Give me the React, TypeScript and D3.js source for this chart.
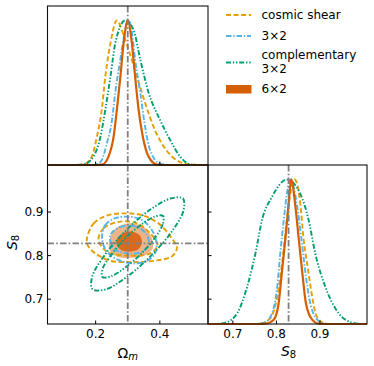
import * as d3 from 'd3'
import React from 'react'

const W = 374
const H = 366

// parameter ranges, fiducial values, ticks
const OM_RANGE = [0.05, 0.55]
const S8_RANGE = [0.643, 1.008]
const OM_FID = 0.3
const S8_FID = 0.828
const OM_TICKS = [0.2, 0.4]
const S8_TICKS = [0.7, 0.8, 0.9]

// 1D marginals: [value, peak-normalised density]
const omShear = [[0.05, 0], [0.14, 0], [0.163, 0.005], [0.188, 0.058], [0.204, 0.196], [0.219, 0.38], [0.23, 0.61], [0.246, 0.84], [0.266, 1.0], [0.287, 0.9], [0.308, 0.76], [0.329, 0.61], [0.354, 0.43], [0.385, 0.24], [0.421, 0.1], [0.463, 0.02], [0.5, 0.002], [0.55, 0]]
const om3x2 = [[0.05, 0], [0.19, 0], [0.215, 0.02], [0.235, 0.15], [0.251, 0.31], [0.261, 0.5], [0.277, 0.73], [0.292, 0.935], [0.302, 1.0], [0.313, 0.92], [0.323, 0.73], [0.339, 0.5], [0.354, 0.265], [0.37, 0.1], [0.4, 0.01], [0.43, 0], [0.55, 0]]
const omComp = [[0.05, 0], [0.13, 0], [0.163, 0.005], [0.193, 0.058], [0.215, 0.196], [0.23, 0.38], [0.246, 0.61], [0.261, 0.84], [0.292, 1.0], [0.318, 0.935], [0.339, 0.73], [0.365, 0.5], [0.401, 0.31], [0.432, 0.173], [0.463, 0.058], [0.494, 0.005], [0.52, 0], [0.55, 0]]
const om6x2 = [[0.05, 0], [0.2, 0], [0.22, 0.003], [0.24, 0.058], [0.256, 0.196], [0.266, 0.38], [0.277, 0.61], [0.287, 0.84], [0.3, 1.0], [0.313, 0.84], [0.323, 0.61], [0.334, 0.38], [0.347, 0.196], [0.365, 0.058], [0.391, 0.003], [0.41, 0], [0.55, 0]]

const s8Shear = [[0.643, 0], [0.75, 0], [0.767, 0.005], [0.786, 0.04], [0.802, 0.19], [0.813, 0.42], [0.824, 0.72], [0.833, 0.92], [0.842, 1.0], [0.855, 0.83], [0.862, 0.6], [0.873, 0.37], [0.882, 0.19], [0.893, 0.05], [0.912, 0.003], [0.93, 0], [1.008, 0]]
const s83x2 = [[0.643, 0], [0.75, 0], [0.773, 0.01], [0.79, 0.074], [0.802, 0.26], [0.809, 0.49], [0.817, 0.72], [0.825, 0.92], [0.832, 1.0], [0.847, 0.83], [0.857, 0.6], [0.866, 0.37], [0.878, 0.14], [0.897, 0.02], [0.912, 0.002], [0.93, 0], [1.008, 0]]
const s8Comp = [[0.643, 0], [0.66, 0.001], [0.683, 0.01], [0.71, 0.074], [0.733, 0.26], [0.752, 0.49], [0.767, 0.72], [0.79, 0.88], [0.824, 1.0], [0.855, 0.9], [0.874, 0.72], [0.889, 0.49], [0.912, 0.26], [0.943, 0.074], [0.973, 0.01], [0.99, 0.001], [1.008, 0]]
const s86x2 = [[0.643, 0], [0.76, 0], [0.775, 0.002], [0.794, 0.03], [0.805, 0.14], [0.813, 0.37], [0.821, 0.6], [0.828, 0.83], [0.834, 1.0], [0.843, 0.83], [0.851, 0.6], [0.859, 0.37], [0.868, 0.14], [0.882, 0.03], [0.897, 0.002], [0.91, 0], [1.008, 0]]

// 2D contours (68% / 95%): [Omega_m, S8]
const shear68 = [[0.209, 0.836], [0.225, 0.863], [0.277, 0.878], [0.329, 0.874], [0.37, 0.851], [0.393, 0.824], [0.37, 0.805], [0.298, 0.8], [0.235, 0.809]]
const shear95 = [[0.173, 0.84], [0.194, 0.874], [0.235, 0.892], [0.287, 0.897], [0.344, 0.893], [0.396, 0.874], [0.437, 0.84], [0.453, 0.817], [0.437, 0.798], [0.38, 0.788], [0.308, 0.785], [0.246, 0.788], [0.199, 0.805], [0.175, 0.824]]
const c3x2_68 = [[0.246, 0.847], [0.277, 0.866], [0.329, 0.866], [0.36, 0.847], [0.365, 0.824], [0.344, 0.809], [0.298, 0.805], [0.256, 0.817]]
const c3x2_95 = [[0.22, 0.84], [0.23, 0.87], [0.261, 0.886], [0.308, 0.889], [0.344, 0.882], [0.375, 0.859], [0.389, 0.832], [0.385, 0.805], [0.36, 0.788], [0.318, 0.782], [0.271, 0.79], [0.235, 0.809]]
const comp68 = [[0.41, 0.891], [0.409, 0.872], [0.384, 0.84], [0.34, 0.803], [0.289, 0.771], [0.246, 0.752], [0.221, 0.751], [0.222, 0.77], [0.248, 0.801], [0.291, 0.839], [0.342, 0.871], [0.385, 0.89]]
const comp95 = [[0.472, 0.931], [0.473, 0.902], [0.435, 0.853], [0.37, 0.798], [0.295, 0.75], [0.229, 0.722], [0.19, 0.723], [0.189, 0.751], [0.227, 0.8], [0.292, 0.856], [0.367, 0.904], [0.433, 0.931]]
const c6x2_68 = [[0.264, 0.832], [0.282, 0.85], [0.313, 0.855], [0.337, 0.847], [0.344, 0.831], [0.334, 0.815], [0.302, 0.809], [0.275, 0.815]]
const c6x2_95 = [[0.243, 0.836], [0.261, 0.861], [0.302, 0.874], [0.349, 0.866], [0.375, 0.84], [0.378, 0.817], [0.354, 0.801], [0.313, 0.795], [0.266, 0.798], [0.243, 0.813]]

const C_SHEAR = '#E69F00'
const C_3X2 = '#56B4E9'
const C_COMP = '#009E73'
const C_6X2 = '#D55E00'
const DASH_SHEAR = '5,2.6'
const DASH_3X2 = '5.5,1.8,1.4,1.8'
const DASH_COMP = '5,1.8,1.4,1.8,1.4,1.8'
const DASH_FID = '6.5,2.2,1.6,2.2'
const LW = 1.9

// panel boxes
const L0 = 47.5
const L1 = 208
const R1 = 367
const T0 = 6
const T1 = 165
const B1 = 324

const FONT = 'DejaVu Sans, sans-serif'

const App = () => {
  const xOm = d3.scaleLinear().domain(OM_RANGE).range([L0, L1])
  const yS8 = d3.scaleLinear().domain(S8_RANGE).range([B1, T1])
  const xS8 = d3.scaleLinear().domain(S8_RANGE).range([L1, R1])
  const yTop = d3.scaleLinear().domain([0, 1.1]).range([T1, T0])
  const yBR = d3.scaleLinear().domain([0, 1.1]).range([B1, T1])

  const omLine = d3.line().x((d) => xOm(d[0])).y((d) => yTop(d[1])).curve(d3.curveMonotoneX)
  const s8Line = d3.line().x((d) => xS8(d[0])).y((d) => yBR(d[1])).curve(d3.curveMonotoneX)
  const contour = d3.line().x((d) => xOm(d[0])).y((d) => yS8(d[1])).curve(d3.curveCatmullRomClosed.alpha(0.5))

  const oneD = [
    { om: omShear, s8: s8Shear, color: C_SHEAR, dash: DASH_SHEAR, w: LW },
    { om: om3x2, s8: s83x2, color: C_3X2, dash: DASH_3X2, w: LW },
    { om: omComp, s8: s8Comp, color: C_COMP, dash: DASH_COMP, w: LW },
    { om: om6x2, s8: s86x2, color: C_6X2, dash: null, w: 2.2 }
  ]

  const lineContours = [
    { d: shear95, color: C_SHEAR, dash: DASH_SHEAR },
    { d: shear68, color: C_SHEAR, dash: DASH_SHEAR },
    { d: c3x2_95, color: C_3X2, dash: DASH_3X2 },
    { d: c3x2_68, color: C_3X2, dash: DASH_3X2 },
    { d: comp95, color: C_COMP, dash: DASH_COMP },
    { d: comp68, color: C_COMP, dash: DASH_COMP }
  ]

  const frame = (x0, y0, x1, y1) => (
    <rect x={ x0 } y={ y0 } width={ x1 - x0 } height={ y1 - y0 } fill='none' stroke='#111' strokeWidth={ 1.1 } />
  )

  const fidStyle = { stroke: '#808080', strokeWidth: 1.8, strokeDasharray: DASH_FID, fill: 'none' }

  const legendRows = [
    { label: ['cosmic shear'], color: C_SHEAR, dash: DASH_SHEAR, y: 15 },
    { label: ['3×2'], color: C_3X2, dash: DASH_3X2, y: 36 },
    { label: ['complementary', '3×2'], color: C_COMP, dash: DASH_COMP, y: 62.5 }
  ]

  return (
    <svg width={ W } height={ H } style={ { position: 'absolute', left: 0, top: 0, background: '#fff' } } fontFamily={ FONT }>
      <rect width={ W } height={ H } fill='#fff' />

      {/* top-left: Omega_m marginal */}
      <g>
        {oneD.map((s, i) => (
          <path key={ i } d={ omLine(s.om) } fill='none' stroke={ s.color } strokeWidth={ s.w } strokeDasharray={ s.dash || undefined } />
        ))}
        <line x1={ xOm(OM_FID) } x2={ xOm(OM_FID) } y1={ T0 } y2={ T1 } style={ fidStyle } />
        {OM_TICKS.map((t) => (
          <line key={ t } x1={ xOm(t) } x2={ xOm(t) } y1={ T1 } y2={ T1 - 3.5 } stroke='#000' />
        ))}
        {frame(L0, T0, L1, T1)}
      </g>

      {/* bottom-left: 2D contours */}
      <g>
        <path d={ contour(c6x2_95) } fill='#EDB48A' stroke='none' />
        <path d={ contour(c6x2_68) } fill='#DA6A1C' stroke='none' />
        {lineContours.map((c, i) => (
          <path key={ i } d={ contour(c.d) } fill='none' stroke={ c.color } strokeWidth={ LW } strokeDasharray={ c.dash } />
        ))}
        <line x1={ xOm(OM_FID) } x2={ xOm(OM_FID) } y1={ T1 } y2={ B1 } style={ fidStyle } />
        <line x1={ L0 } x2={ L1 } y1={ yS8(S8_FID) } y2={ yS8(S8_FID) } style={ fidStyle } />
        {OM_TICKS.map((t) => (
          <g key={ t }>
            <line x1={ xOm(t) } x2={ xOm(t) } y1={ B1 } y2={ B1 - 3.5 } stroke='#000' />
            <text x={ xOm(t) } y={ 337.5 } textAnchor='middle' fontSize={ 12 }>{t.toFixed(1)}</text>
          </g>
        ))}
        {S8_TICKS.map((t) => (
          <g key={ t }>
            <line x1={ L0 } x2={ L0 + 3.5 } y1={ yS8(t) } y2={ yS8(t) } stroke='#000' />
            <text x={ 43.5 } y={ yS8(t) + 4.3 } textAnchor='end' fontSize={ 12 }>{t.toFixed(1)}</text>
          </g>
        ))}
        {frame(L0, T1, L1, B1)}
        <text x={ xOm(OM_FID) } y={ 357.5 } textAnchor='middle' fontSize={ 14 }>
          Ω<tspan fontStyle='italic' fontSize={ 10 } dy={ 2.5 }>m</tspan>
        </text>
        <text transform={ `translate(16.5,${yS8(S8_FID) - 1}) rotate(-90)` } textAnchor='middle' fontSize={ 14 }>
          <tspan fontStyle='italic'>S</tspan><tspan fontSize={ 10 } dy={ 2.5 }>8</tspan>
        </text>
      </g>

      {/* bottom-right: S8 marginal */}
      <g>
        {oneD.map((s, i) => (
          <path key={ i } d={ s8Line(s.s8) } fill='none' stroke={ s.color } strokeWidth={ s.w } strokeDasharray={ s.dash || undefined } />
        ))}
        <line x1={ xS8(S8_FID) } x2={ xS8(S8_FID) } y1={ T1 } y2={ B1 } style={ fidStyle } />
        {S8_TICKS.map((t) => (
          <g key={ t }>
            <line x1={ xS8(t) } x2={ xS8(t) } y1={ B1 } y2={ B1 - 3.5 } stroke='#000' />
            <line x1={ L1 } x2={ L1 + 3.5 } y1={ yS8(t) } y2={ yS8(t) } stroke='#000' />
            <text x={ xS8(t) } y={ 337.5 } textAnchor='middle' fontSize={ 12 }>{t.toFixed(1)}</text>
          </g>
        ))}
        {frame(L1, T1, R1, B1)}
        <text x={ xS8(S8_FID) } y={ 355.5 } textAnchor='middle' fontSize={ 14 }>
          <tspan fontStyle='italic'>S</tspan><tspan fontSize={ 10 } dy={ 2.5 }>8</tspan>
        </text>
      </g>

      {/* legend */}
      <g fontSize={ 12 }>
        {legendRows.map((r, i) => (
          <g key={ i }>
            <line x1={ 226 } x2={ 251 } y1={ r.y } y2={ r.y } stroke={ r.color } strokeWidth={ LW } strokeDasharray={ r.dash } />
            {r.label.map((l, j) => (
              <text key={ j } x={ 261.5 } y={ r.label.length === 1 ? r.y + 4.3 : r.y - 3.2 + j * 14 }>{l}</text>
            ))}
          </g>
        ))}
        <rect x={ 226 } y={ 85 } width={ 25.5 } height={ 8.5 } fill={ C_6X2 } />
        <text x={ 261.5 } y={ 92.8 }>6×2</text>
      </g>
    </svg>
  )
}

export default App
